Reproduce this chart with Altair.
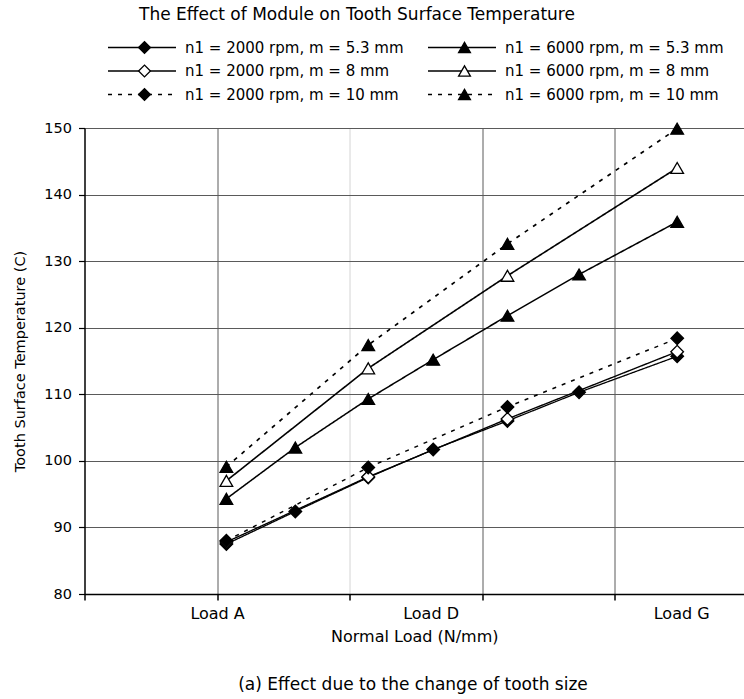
import altair as alt
import pandas as pd

FONT = "DejaVu Sans"
FS = 14.5          # y axis text
FS_X = 16          # x axis labels and title
FS_LEG = 15        # legend entries
FS_TITLE = 17      # chart title
FS_CAP = 17        # caption

# ---------------- data ----------------
title_text = "The Effect of Module on Tooth Surface Temperature"
caption_text = "(a) Effect due to the change of tooth size"
x_title = "Normal Load (N/mm)"
y_title = "Tooth Surface Temperature (C)"

series_names = [
    "n1 = 2000 rpm, m = 5.3 mm",
    "n1 = 2000 rpm, m = 8 mm",
    "n1 = 2000 rpm, m = 10 mm",
    "n1 = 6000 rpm, m = 5.3 mm",
    "n1 = 6000 rpm, m = 8 mm",
    "n1 = 6000 rpm, m = 10 mm",
]

# normal load of loads A..G (N/mm, estimated)
load_names = ["A", "B", "C", "D", "E", "F", "G"]
load_x = [107, 159, 214, 263, 319, 373, 447]
all_loads = [0, 1, 2, 3, 4, 5, 6]
few_loads = [0, 2, 4, 6]

s_2000_53 = [87.5, 92.4, 97.5, 101.7, 106.0, 110.3, 115.7]
s_2000_8 = [87.8, 97.6, 106.3, 116.4]
s_2000_10 = [88.0, 99.0, 108.1, 118.4]
s_6000_53 = [94.3, 102.0, 109.3, 115.2, 121.8, 128.0, 135.9]
s_6000_8 = [97.0, 113.9, 127.8, 144.0]
s_6000_10 = [99.1, 117.4, 132.6, 149.9]

series_values = [s_2000_53, s_2000_8, s_2000_10, s_6000_53, s_6000_8, s_6000_10]
series_loads = [all_loads, few_loads, few_loads, all_loads, few_loads, few_loads]

tick_label_text = ["Load A", "Load D", "Load G"]
tick_label_pos = [100, 261, 450]
grid_ticks = [0, 100, 200, 300, 400]
y_ticks = [80, 90, 100, 110, 120, 130, 140, 150]

legend_col = [0, 0, 0, 1, 1, 1]
legend_row = [0, 1, 2, 0, 1, 2]

# ---------------- build tables ----------------
rows = []
for name, vals, idx in zip(series_names, series_values, series_loads):
    for i, v in zip(idx, vals):
        rows.append({"series": name, "load": load_x[i], "temp": v})
df = pd.DataFrame(rows)

leg_df = pd.DataFrame({"series": series_names, "col": legend_col, "row": legend_row})

# ---------------- layout / style ----------------
W, H = 659.5, 466
XMAX = 497.4

shapes = ["diamond", "diamond", "diamond", "triangle-up", "triangle-up", "triangle-up"]
fills = ["black", "white", "black", "black", "white", "black"]
dashes = [[1, 0], [1, 0], [4, 6], [1, 0], [1, 0], [4, 6]]
widths = [1.3, 1.7, 2.0, 1.3, 1.7, 2.0]

dash_scale = alt.Scale(domain=series_names, range=dashes)
width_scale = alt.Scale(domain=series_names, range=widths)
shape_scale = alt.Scale(domain=series_names, range=shapes)
fill_scale = alt.Scale(domain=series_names, range=fills)

x_vals = sorted(set(grid_ticks + tick_label_pos))
label_expr = "".join(
    f"datum.value === {v} ? '{t}' : " for v, t in zip(tick_label_pos, tick_label_text)
) + "''"

x_axis = alt.Axis(
    values=x_vals,
    labelExpr=label_expr,
    labelOverlap=False,
    labelFlush=False,
    labelFont=FONT,
    labelFontSize=FS_X,
    labelColor="black",
    labelPadding=5,
    title=x_title,
    titleFont=FONT,
    titleFontSize=FS_X,
    titleFontWeight="normal",
    titleColor="black",
    titlePadding=7,
    domainColor="black",
    domainWidth=1.5,
    tickColor="black",
    tickWidth=1.5,
    tickSize=6,
    tickOpacity={"condition": {"test": f"indexof({grid_ticks}, datum.value) >= 0", "value": 1}, "value": 0},
    grid=True,
    gridOpacity={"condition": {"test": f"indexof({grid_ticks[1:]}, datum.value) >= 0", "value": 1}, "value": 0},
    gridColor={"condition": {"test": "datum.value === 200", "value": "#d4d4d4"}, "value": "#5a5a5a"},
    gridWidth=1,
)

y_axis = alt.Axis(
    values=y_ticks,
    title=y_title,
    titleFont=FONT,
    titleFontSize=FS,
    titleFontWeight="normal",
    titleColor="black",
    titlePadding=16,
    labelFont=FONT,
    labelFontSize=FS,
    labelColor="black",
    labelPadding=7,
    tickSize=6,
    tickColor="black",
    tickWidth=1.2,
    domainColor="black",
    domainWidth=1.5,
    grid=True,
    gridColor="#5a5a5a",
    gridWidth=1,
)

x_scale = alt.Scale(domain=[0, XMAX], nice=False, zero=False)
y_scale = alt.Scale(domain=[80, 150], nice=False, zero=False)

lines = alt.Chart(df).mark_line(color="black").encode(
    x=alt.X("load:Q", scale=x_scale, axis=x_axis),
    y=alt.Y("temp:Q", scale=y_scale, axis=y_axis),
    detail="series:N",
    strokeDash=alt.StrokeDash("series:N", scale=dash_scale, legend=None),
    strokeWidth=alt.StrokeWidth("series:N", scale=width_scale, legend=None),
)

points = alt.Chart(df).mark_point(
    filled=True, stroke="black", strokeWidth=1.3, opacity=1, size=160
).encode(
    x=alt.X("load:Q", scale=x_scale, axis=x_axis),
    y=alt.Y("temp:Q", scale=y_scale, axis=y_axis),
    shape=alt.Shape("series:N", scale=shape_scale, legend=None),
    fill=alt.Fill("series:N", scale=fill_scale, legend=None),
)

main = alt.layer(lines, points)

# ---------------- hand-made legend (pixel scales relative to plot origin) ----------------
LEG_X0, LEG_DX, LEG_LEN, LEG_MARK, LEG_TEXT = 23.5, 320, 68, 36.5, 77
LEG_Y0, LEG_DY = -80.5, 23.5

px_x = alt.Scale(domain=[0, W], nice=False, zero=False)
px_y = alt.Scale(domain=[0, H], reverse=True, nice=False, zero=False)

leg_base = alt.Chart(leg_df).transform_calculate(
    lx0=f"{LEG_X0} + datum.col * {LEG_DX}",
    lx1=f"{LEG_X0} + datum.col * {LEG_DX} + {LEG_LEN}",
    lm=f"{LEG_X0} + datum.col * {LEG_DX} + {LEG_MARK}",
    lt=f"{LEG_X0} + datum.col * {LEG_DX} + {LEG_TEXT}",
    ly=f"{LEG_Y0} + datum.row * {LEG_DY}",
)

leg_lines = leg_base.mark_rule(color="black").encode(
    x=alt.X("lx0:Q", scale=px_x, axis=None),
    x2="lx1:Q",
    y=alt.Y("ly:Q", scale=px_y, axis=None),
    strokeDash=alt.StrokeDash("series:N", scale=dash_scale, legend=None),
    strokeWidth=alt.StrokeWidth("series:N", scale=width_scale, legend=None),
)

leg_points = leg_base.mark_point(
    filled=True, stroke="black", strokeWidth=1.3, opacity=1, size=140
).encode(
    x=alt.X("lm:Q", scale=px_x, axis=None),
    y=alt.Y("ly:Q", scale=px_y, axis=None),
    shape=alt.Shape("series:N", scale=shape_scale, legend=None),
    fill=alt.Fill("series:N", scale=fill_scale, legend=None),
)

leg_text = leg_base.mark_text(
    align="left", baseline="middle", font=FONT, fontSize=FS_LEG, color="black"
).encode(
    x=alt.X("lt:Q", scale=px_x, axis=None),
    y=alt.Y("ly:Q", scale=px_y, axis=None),
    text="series:N",
)

title_mark = alt.Chart(pd.DataFrame({"t": [title_text]})).mark_text(
    align="left", baseline="middle", font=FONT, fontSize=FS_TITLE, color="black"
).encode(x=alt.value(54.5), y=alt.value(-113), text="t:N")

caption_mark = alt.Chart(pd.DataFrame({"t": [caption_text]})).mark_text(
    align="center", baseline="middle", font=FONT, fontSize=FS_CAP, color="black"
).encode(x=alt.value(328.5), y=alt.value(557), text="t:N")

chart = (
    alt.layer(main, leg_lines, leg_points, leg_text, title_mark, caption_mark)
    .resolve_scale(x="independent", y="independent")
    .properties(
        width=W,
        height=H,
        autosize=alt.AutoSizeParams(type="none"),
        padding={"left": 84.5, "top": 128, "right": 0, "bottom": 105},
        background="white",
    )
    .configure_view(strokeWidth=0)
)

chart.save("out.html", embed_options={"renderer": "svg", "actions": False})
